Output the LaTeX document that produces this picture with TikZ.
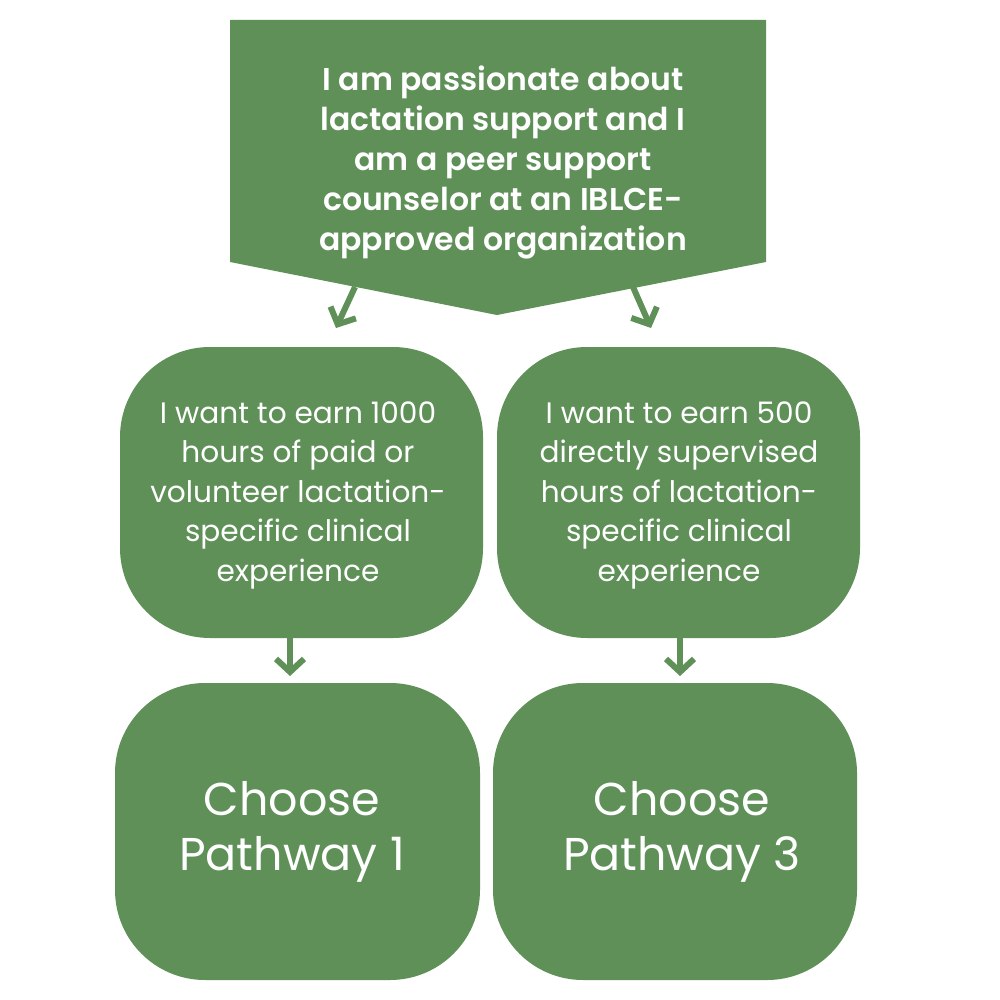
\documentclass[tikz,border=0pt]{standalone}
\usepackage{fontspec}
\setmainfont{Poppins}
\newfontfamily\semib{Poppins SemiBold}
\usetikzlibrary{arrows.meta}
\definecolor{leaf}{RGB}{94,144,88}
\begin{document}
\begin{tikzpicture}[x=1pt,y=-1pt,
  box/.style={fill=leaf, rounded corners=90pt, inner sep=0pt, text=white, align=center},
  midtext/.style={font=\fontsize{29.6}{39.5}\selectfont},
  bigtext/.style={font=\fontsize{46}{55}\selectfont},
  conn/.style={draw=leaf, line width=6pt, -{Straight Barb[length=13pt,width=28pt,line width=6pt]}}]
\useasboundingbox (0,0) rectangle (1000,1000);
% top pentagon
\fill[leaf] (230,20) -- (766,20) -- (766,262) -- (497,315) -- (230,262) -- cycle;
\node[text=white, align=center, font=\semib\fontsize{31.5}{40}\selectfont] (top) at (503,162.5)
  {I am passionate about\\lactation support and I\\am a peer support\\counselor at an IBLCE-\\approved organization};
% middle boxes
\node[box, minimum width=363pt, minimum height=291pt] (m1) at (301.5,492.5) {};
\node[box, minimum width=363pt, minimum height=291pt] (m2) at (678.5,492.5) {};
\node[text=white, align=center, midtext] (mt1) at (298,495)
  {I want to earn 1000\\hours of paid or\\volunteer lactation-\\specific clinical\\experience};
\node[text=white, align=center, midtext] (mt2) at (679,495)
  {I want to earn 500\\directly supervised\\hours of lactation-\\specific clinical\\experience};
% bottom boxes
\node[box, minimum width=365pt, minimum height=297pt] (b1) at (297.5,831.5) {};
\node[box, minimum width=364pt, minimum height=297pt] (b2) at (675,831.5) {};
\node[text=white, align=center, bigtext] (t1) at (292,831.5) {Choose\\Pathway 1};
\node[text=white, align=center, bigtext] (t2) at (682,831.5) {Choose\\Pathway 3};
% connector coordinates
\coordinate (s1) at (355,287);
\coordinate (e1) at (336,328);
\coordinate (s2) at (633,287);
\coordinate (e2) at (651,328);
\coordinate (s3) at (290,636);
\coordinate (e3) at (290,676);
\coordinate (s4) at (680,636);
\coordinate (e4) at (680,676);
\draw[conn] (s1) -- (e1);
\draw[conn] (s2) -- (e2);
\draw[conn] (s3) -- (e3);
\draw[conn] (s4) -- (e4);
\end{tikzpicture}
\end{document}
